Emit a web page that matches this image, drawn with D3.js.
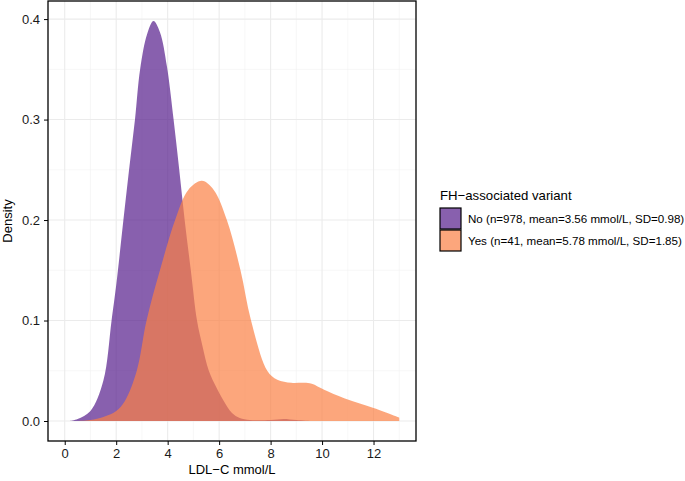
<!DOCTYPE html>
<html>
<head>
<meta charset="utf-8">
<script src="https://cdn.jsdelivr.net/npm/d3@7"></script>
<style>
  body { margin: 0; background: #fff; }
  text { font-family: "Liberation Sans", Arial, sans-serif; }
</style>
</head>
<body>
<div id="chart"></div>
<script>
// density curves (x = LDL-C mmol/L, y = density)
var noX = [0.2, 0.5, 1.0, 1.5, 1.82, 2.0, 2.28, 2.5, 2.73, 2.93, 3.2, 3.45, 3.7, 3.97, 4.23, 4.45, 4.66, 4.9, 5.14, 5.35, 5.6, 5.9, 6.18, 6.5, 6.8, 7.2, 8.0, 8.5, 9.0, 9.6];
var noY = [0.0, 0.002, 0.01, 0.04, 0.10, 0.135, 0.20, 0.25, 0.30, 0.35, 0.385, 0.398, 0.387, 0.353, 0.30, 0.25, 0.20, 0.15, 0.10, 0.075, 0.05, 0.033, 0.02, 0.008, 0.003, 0.001, 0.001, 0.002, 0.001, 0.0];
var yesX = [0.4, 1.0, 1.5, 2.0, 2.34, 2.8, 3.18, 3.7, 4.29, 4.8, 5.33, 5.79, 6.3, 6.83, 7.24, 7.87, 8.26, 8.8, 9.3, 9.6, 10.08, 10.86, 12.03, 13.0];
var yesY = [0.0, 0.001, 0.004, 0.01, 0.02, 0.05, 0.10, 0.15, 0.20, 0.23, 0.239, 0.23, 0.20, 0.15, 0.10, 0.05, 0.041, 0.038, 0.038, 0.037, 0.031, 0.0226, 0.0126, 0.0033];

var groups = ["No", "Yes"];
var legendLabels = ["No (n=978, mean=3.56 mmol/L, SD=0.98)", "Yes (n=41, mean=5.78 mmol/L, SD=1.85)"];
var colors = ["#551c8b", "#fb8045"];

var xTicks = [0, 2, 4, 6, 8, 10, 12];
var xMinor = [1, 3, 5, 7, 9, 11, 13];
var yTicks = [0, 0.1, 0.2, 0.3, 0.4];
var yMinor = [0.05, 0.15, 0.25, 0.35];

var width = 685,
    height = 481;

var pLeft = 48, pRight = 416, pTop = 1, pBottom = 441;

var x = d3.scaleLinear().domain([-0.65, 13.65]).range([pLeft, pRight]);
var y = d3.scaleLinear().domain([-0.0199, 0.418]).range([pBottom, pTop]);

var svg = d3.select("#chart").append("svg")
    .attr("width", width)
    .attr("height", height);

// grid
var grid = svg.append("g");
grid.selectAll(".xminor").data(xMinor).enter().append("line")
    .attr("x1", function(d) { return x(d); }).attr("x2", function(d) { return x(d); })
    .attr("y1", pTop).attr("y2", pBottom)
    .attr("stroke", "#f2f2f2").attr("stroke-width", 0.6);
grid.selectAll(".yminor").data(yMinor).enter().append("line")
    .attr("y1", function(d) { return y(d); }).attr("y2", function(d) { return y(d); })
    .attr("x1", pLeft).attr("x2", pRight)
    .attr("stroke", "#f2f2f2").attr("stroke-width", 0.6);
grid.selectAll(".xmajor").data(xTicks).enter().append("line")
    .attr("x1", function(d) { return x(d); }).attr("x2", function(d) { return x(d); })
    .attr("y1", pTop).attr("y2", pBottom)
    .attr("stroke", "#ebebeb").attr("stroke-width", 1.1);
grid.selectAll(".ymajor").data(yTicks).enter().append("line")
    .attr("y1", function(d) { return y(d); }).attr("y2", function(d) { return y(d); })
    .attr("x1", pLeft).attr("x2", pRight)
    .attr("stroke", "#ebebeb").attr("stroke-width", 1.1);

// areas
var area = d3.area()
    .x(function(d) { return x(d[0]); })
    .y0(y(0))
    .y1(function(d) { return y(d[1]); })
    .curve(d3.curveCatmullRom.alpha(0.5));

var series = [d3.zip(noX, noY), d3.zip(yesX, yesY)];

svg.selectAll(".area").data(series).enter().append("path")
    .attr("class", "area")
    .attr("d", area)
    .attr("fill", function(d, i) { return colors[i]; })
    .attr("fill-opacity", 0.7);

// panel border
svg.append("rect")
    .attr("x", pLeft).attr("y", pTop)
    .attr("width", pRight - pLeft).attr("height", pBottom - pTop)
    .attr("fill", "none").attr("stroke", "#000").attr("stroke-width", 1.3);

// axes
var xAxis = svg.append("g")
    .attr("transform", "translate(0," + pBottom + ")")
    .call(d3.axisBottom(x).tickValues(xTicks).tickSize(4).tickPadding(4));
var yAxis = svg.append("g")
    .attr("transform", "translate(" + pLeft + ",0)")
    .call(d3.axisLeft(y).tickValues(yTicks).tickFormat(d3.format(".1f")).tickSize(4).tickPadding(4));

[xAxis, yAxis].forEach(function(a) {
    a.select(".domain").remove();
    a.selectAll("line").attr("stroke", "#000").attr("stroke-width", 1);
    a.selectAll("text").attr("fill", "#1a1a1a").style("font-size", "13px")
        .style("font-family", "'Liberation Sans', Arial, sans-serif");
});

svg.append("text")
    .attr("x", (pLeft + pRight) / 2).attr("y", 474)
    .attr("text-anchor", "middle")
    .style("font-size", "13px")
    .text("LDL\u2212C mmol/L");

svg.append("text")
    .attr("transform", "translate(12," + ((pTop + pBottom) / 2) + ") rotate(-90)")
    .attr("text-anchor", "middle")
    .style("font-size", "13px")
    .text("Density");

// legend
var legend = svg.append("g").attr("transform", "translate(440,0)");
legend.append("text")
    .attr("x", 0).attr("y", 200)
    .style("font-size", "13.2px")
    .text("FH\u2212associated variant");

var keys = legend.selectAll(".key").data(groups).enter().append("g")
    .attr("transform", function(d, i) { return "translate(0," + (208 + i * 22) + ")"; });
keys.append("rect")
    .attr("x", 0).attr("y", 0)
    .attr("width", 21).attr("height", 21)
    .attr("fill", "#fff");
keys.append("rect")
    .attr("x", 0).attr("y", 0)
    .attr("width", 21).attr("height", 21)
    .attr("fill", function(d, i) { return colors[i]; })
    .attr("fill-opacity", 0.7)
    .attr("stroke", "#000").attr("stroke-width", 1.2);
keys.append("text")
    .attr("x", 28).attr("y", 15)
    .style("font-size", "11.6px")
    .text(function(d, i) { return legendLabels[i]; });
</script>
</body>
</html>
